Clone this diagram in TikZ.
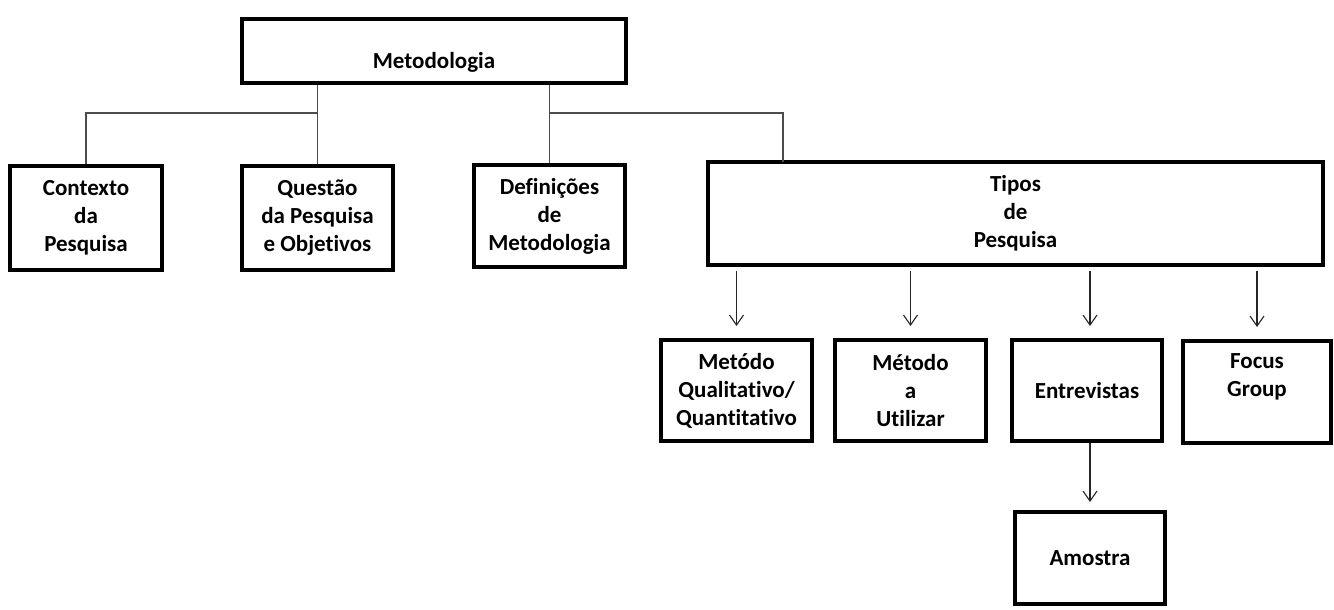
\documentclass[tikz,border=0pt]{standalone}
\usepackage{fontspec}
\setmainfont{Carlito}[Ligatures=NoCommon]
\usetikzlibrary{arrows.meta}

\begin{document}
\begin{tikzpicture}[x=1pt,y=-1pt,
  boxtext/.style={align=center, font=\fontsize{23}{28}\selectfont\bfseries, inner sep=0pt},
  box/.style={draw=black, line width=4pt, fill=white, inner sep=0pt, boxtext},
  conn/.style={draw=black!70, line width=1.2pt},
  arr/.style={draw=black!85, line width=1.1pt,
    -{Straight Barb[length=10pt,width=14pt,line width=1.1pt]}}
]
\useasboundingbox (0,0) rectangle (1334,610);

% boxes
\node[box, minimum width=384pt, minimum height=64pt,
  label={[boxtext, yshift=-11pt]center:Metodologia}] (meto) at (434,51) {};
\node[box, minimum width=152pt, minimum height=104pt] (ctx) at (86,218) {Contexto\\da\\Pesquisa};
\node[box, minimum width=151pt, minimum height=104pt] (quest) at (317.5,218) {Questão\\da Pesquisa\\e Objetivos};
\node[box, minimum width=151pt, minimum height=102pt] (defin) at (549.5,216) {Definições\\de\\Metodologia};
\node[box, minimum width=615pt, minimum height=103pt] (tipos) at (1015.5,213.5) {Tipos\\de\\Pesquisa};
\node[box, minimum width=151pt, minimum height=101pt] (qual) at (736.5,390.5) {Metódo\\Qualitativo/\\Quantitativo};
\node[box, minimum width=151pt, minimum height=101pt] (util) at (910.5,390.5) {Método\\a\\Utilizar};
\node[box, minimum width=150pt, minimum height=101pt] (entr) at (1087,390.5) {Entrevistas};
\node[box, minimum width=148pt, minimum height=102pt,
  label={[boxtext, yshift=15pt]center:Focus\\Group}] (focus) at (1257,392) {};
\node[box, minimum width=150pt, minimum height=92pt] (amos) at (1090,558) {Amostra};

% tree connectors from the top box
\coordinate (busL) at (319,113);
\coordinate (busR) at (549.5,113);
\coordinate (tipIn) at (783,162);
\draw[conn] (quest.north |- meto.south) -- (quest.north);
\draw[conn] (quest.north |- busL) -| (ctx.north);
\draw[conn] (defin.north |- meto.south) -- (defin.north);
\draw[conn] (busR) -| (tipIn);

% arrows to the research types
\foreach \n in {qual,util,focus}
  \draw[arr, shorten <=4pt, shorten >=12pt] (tipos.south -| \n.north) -- (\n.north);
\draw[arr, shorten <=4pt, shorten >=12pt] (tipos.south -| amos.north) -- (entr.north -| amos.north);
\draw[arr, shorten >=8pt] (entr.south -| amos.north) -- (amos.north);
\end{tikzpicture}
\end{document}
